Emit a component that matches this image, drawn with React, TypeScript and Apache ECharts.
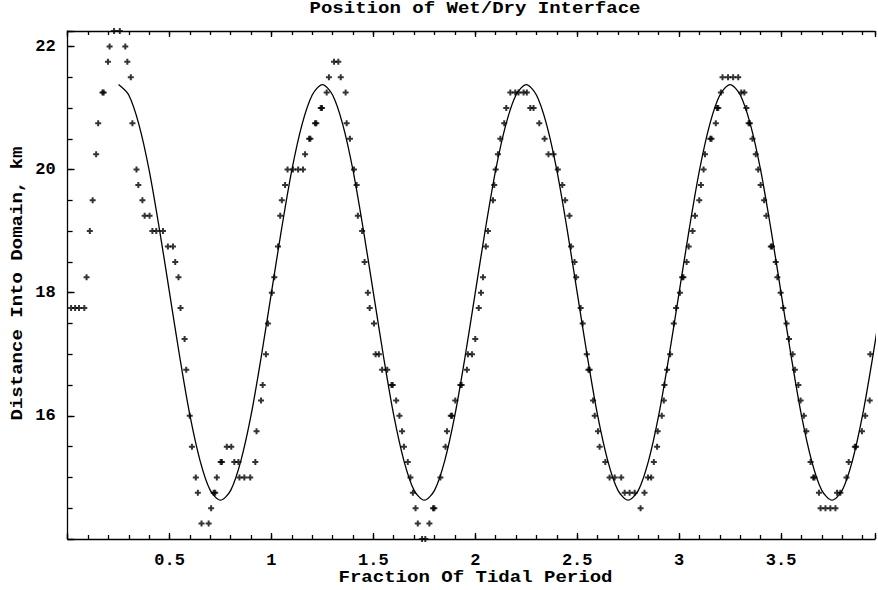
import React, { useEffect, useRef } from 'react';
import * as echarts from 'echarts';

const TITLE = 'Position of Wet/Dry Interface';
const X_NAME = 'Fraction Of Tidal Period';
const Y_NAME = 'Distance Into Domain, km';

const X_MIN = 0;
const X_MAX = 3.961;
const Y_MIN = 14;
const Y_MAX = 22.25;

const xTickLabels = [0.5, 1, 1.5, 2, 2.5, 3, 3.5];
const yTickLabels = [16, 18, 20, 22];

// fitted curve, sampled every 0.05 of a tidal period starting at 0.25
const lineStart = 0.25;
const lineStep = 0.05;
const lineY = [
  21.38, 21.21, 20.73, 19.99, 19.04, 18.0, 16.96, 16.01, 15.27, 14.79,
  14.63, 14.79, 15.27, 16.01, 16.96, 18.0, 19.04, 19.99, 20.73, 21.21,
  21.38, 21.21, 20.73, 19.99, 19.04, 18.0, 16.96, 16.01, 15.27, 14.79,
  14.63, 14.79, 15.27, 16.01, 16.96, 18.0, 19.04, 19.99, 20.73, 21.21,
  21.38, 21.21, 20.73, 19.99, 19.04, 18.0, 16.96, 16.01, 15.27, 14.79,
  14.63, 14.79, 15.27, 16.01, 16.96, 18.0, 19.04, 19.99, 20.73, 21.21,
  21.38, 21.21, 20.73, 19.99, 19.04, 18.0, 16.96, 16.01, 15.27, 14.79,
  14.63, 14.79, 15.27, 16.01, 16.96, 18.0,
];

// model output points (time, position)
const ptX = [
  0.017, 0.037, 0.056, 0.082, 0.093, 0.109, 0.123, 0.14, 0.15, 0.171, 0.177, 0.198, 0.206, 0.228, 0.256,
  0.283, 0.293, 0.31, 0.318, 0.338, 0.347, 0.367, 0.378, 0.402, 0.416, 0.435, 0.468, 0.492, 0.517, 0.528,
  0.544, 0.554, 0.574, 0.582, 0.599, 0.61, 0.629, 0.639, 0.657, 0.692, 0.704, 0.717, 0.724, 0.732, 0.751,
  0.757, 0.781, 0.803, 0.818, 0.838, 0.843, 0.867, 0.896, 0.921, 0.927, 0.949, 0.957, 0.973, 0.983, 1.002,
  1.014, 1.032, 1.043, 1.051, 1.067, 1.079, 1.106, 1.131, 1.155, 1.165, 1.185, 1.191, 1.214, 1.22, 1.242,
  1.248, 1.271, 1.282, 1.307, 1.328, 1.34, 1.364, 1.369, 1.385, 1.405, 1.418, 1.424, 1.445, 1.457, 1.473,
  1.482, 1.503, 1.511, 1.527, 1.543, 1.568, 1.589, 1.595, 1.612, 1.628, 1.641, 1.65, 1.669, 1.682, 1.694,
  1.707, 1.718, 1.739, 1.755, 1.775, 1.793, 1.799, 1.829, 1.854, 1.861, 1.88, 1.886, 1.902, 1.927, 1.933,
  1.959, 1.964, 1.984, 2.0, 2.017, 2.028, 2.038, 2.052, 2.062, 2.087, 2.093, 2.1, 2.111, 2.123, 2.142,
  2.152, 2.172, 2.196, 2.212, 2.237, 2.253, 2.27, 2.286, 2.314, 2.34, 2.359, 2.384, 2.405, 2.427, 2.441,
  2.462, 2.47, 2.487, 2.495, 2.517, 2.527, 2.547, 2.555, 2.561, 2.578, 2.586, 2.602, 2.61, 2.638, 2.659,
  2.684, 2.716, 2.733, 2.757, 2.782, 2.83, 2.811, 2.847, 2.863, 2.876, 2.892, 2.895, 2.915, 2.925, 2.928,
  2.941, 2.956, 2.974, 2.985, 3.004, 3.015, 3.021, 3.037, 3.047, 3.066, 3.078, 3.099, 3.107, 3.12, 3.127,
  3.153, 3.159, 3.18, 3.186, 3.192, 3.205, 3.213, 3.24, 3.265, 3.29, 3.305, 3.32, 3.33, 3.341, 3.347,
  3.36, 3.376, 3.388, 3.4, 3.417, 3.428, 3.45, 3.456, 3.474, 3.482, 3.498, 3.511, 3.527, 3.539, 3.557,
  3.568, 3.585, 3.596, 3.612, 3.624, 3.645, 3.658, 3.664, 3.686, 3.694, 3.718, 3.742, 3.767, 3.775, 3.791,
  3.821, 3.832, 3.862, 3.868, 3.897, 3.913, 3.935, 3.938,
];
const ptY = [
  17.75, 17.75, 17.75, 17.75, 18.25, 19.0, 19.5, 20.25, 20.75, 21.25, 21.25, 21.75, 22.0, 22.25, 22.25,
  22.0, 21.75, 21.5, 20.75, 20.0, 19.75, 19.5, 19.25, 19.25, 19.0, 19.0, 19.0, 18.75, 18.75, 18.5,
  18.25, 17.75, 17.25, 16.75, 16.0, 15.5, 15.0, 14.75, 14.25, 14.25, 14.5, 14.75, 14.75, 15.0, 15.25,
  15.25, 15.5, 15.5, 15.25, 15.25, 15.0, 15.0, 15.0, 15.25, 15.75, 16.25, 16.5, 17.0, 17.5, 18.0,
  18.25, 18.75, 19.25, 19.5, 19.75, 20.0, 20.0, 20.0, 20.0, 20.25, 20.5, 20.5, 20.75, 20.75, 21.0,
  21.0, 21.25, 21.5, 21.75, 21.75, 21.5, 21.25, 20.75, 20.5, 20.0, 19.75, 19.25, 19.0, 18.5, 18.0,
  17.75, 17.5, 17.0, 17.0, 16.75, 16.75, 16.5, 16.5, 16.25, 16.0, 15.75, 15.5, 15.25, 15.0, 14.75,
  14.5, 14.25, 14.0, 14.0, 14.25, 14.5, 14.5, 15.0, 15.5, 15.75, 16.0, 16.0, 16.25, 16.5, 16.5,
  16.75, 17.0, 17.0, 17.25, 17.75, 18.0, 18.25, 18.75, 19.0, 19.5, 19.75, 20.0, 20.25, 20.5, 20.75,
  21.0, 21.25, 21.25, 21.25, 21.25, 21.25, 21.0, 21.0, 20.75, 20.5, 20.25, 20.25, 20.0, 19.75, 19.5,
  19.25, 18.75, 18.5, 18.25, 17.75, 17.5, 17.0, 16.75, 16.75, 16.25, 16.0, 15.75, 15.5, 15.25, 15.0,
  15.0, 15.0, 14.75, 14.75, 14.75, 14.75, 14.5, 15.0, 15.0, 15.25, 15.5, 15.75, 16.0, 16.25, 16.5,
  16.75, 17.0, 17.5, 17.75, 18.0, 18.25, 18.25, 18.5, 18.75, 19.0, 19.25, 19.5, 19.75, 20.0, 20.25,
  20.5, 20.5, 20.75, 21.0, 21.0, 21.25, 21.5, 21.5, 21.5, 21.5, 21.25, 21.25, 21.0, 20.75, 20.75,
  20.5, 20.25, 20.0, 19.75, 19.5, 19.25, 18.75, 18.75, 18.5, 18.25, 18.0, 17.75, 17.5, 17.25, 17.0,
  16.75, 16.5, 16.25, 16.0, 15.75, 15.25, 15.0, 15.0, 14.75, 14.5, 14.5, 14.5, 14.5, 14.75, 14.75,
  15.0, 15.25, 15.5, 15.5, 15.75, 16.0, 16.25, 17.0,
];

const FONT = 'Liberation Mono';
const INK = '#000';
const AXIS_W = 1.3;
const PLUS = 'path://M2,0H4V2H6V4H4V6H2V4H0V2H2Z';

const near = (v: number, list: number[]) => list.some((t) => Math.abs(t - v) < 1e-6);

function buildOption() {
  const lineData = lineY.map((y, i) => [+(lineStart + i * lineStep).toFixed(3), y]);
  const ptData = ptX.map((x, i) => [x, ptY[i]]);
  const lineStyle = { color: INK, width: AXIS_W };
  const labelFont = { fontFamily: FONT, fontSize: 17, fontWeight: 'bold' as const, color: INK };

  const xAxis = (position: 'top' | 'bottom', interval: number, major: boolean) => ({
    type: 'value',
    position,
    min: X_MIN,
    max: X_MAX,
    interval,
    axisLine: { show: major, onZero: false, lineStyle },
    axisTick: { show: true, inside: true, length: major ? 6 : 4, lineStyle },
    minorTick: { show: false },
    splitLine: { show: false },
    axisLabel:
      major && position === 'bottom'
        ? {
            show: true,
            margin: 13,
            ...labelFont,
            formatter: (v: number) => (near(v, xTickLabels) ? String(+v.toFixed(2)) : ''),
          }
        : { show: false },
  });

  const yAxis = (interval: number, major: boolean) => ({
    type: 'value',
    position: 'left',
    min: Y_MIN,
    max: Y_MAX,
    interval,
    axisLine: { show: major, onZero: false, lineStyle },
    axisTick: { show: true, inside: true, length: major ? 7 : 5, lineStyle },
    minorTick: { show: false },
    splitLine: { show: false },
    axisLabel: major
      ? {
          show: true,
          margin: 12,
          ...labelFont,
          formatter: (v: number) => (near(v, yTickLabels) ? String(v) : ''),
        }
      : { show: false },
  });

  const textStyle = (text: string) => ({
    text,
    fontFamily: FONT,
    fontSize: 17,
    fontWeight: 'bold',
    fill: INK,
    align: 'center',
    verticalAlign: 'middle',
    textAlign: 'center',
    textVerticalAlign: 'middle',
  });

  return {
    animation: false,
    backgroundColor: '#fff',
    grid: { left: 67.6, right: 0, top: 31, bottom: 51, containLabel: false },
    xAxis: [
      xAxis('bottom', 0.5, true),
      xAxis('bottom', 0.1, false),
      xAxis('top', 0.5, true),
      xAxis('top', 0.1, false),
    ],
    yAxis: [yAxis(2, true), yAxis(0.5, false)],
    graphic: [
      { type: 'text', x: 475, y: 8.5, scaleX: 1.12, style: textStyle(TITLE) },
      { type: 'text', x: 475.5, y: 577, scaleX: 1.12, style: textStyle(X_NAME) },
      { type: 'text', x: 17, y: 283.5, rotation: Math.PI / 2, scaleX: 1.12, style: textStyle(Y_NAME) },
    ],
    series: [
      {
        type: 'line',
        xAxisIndex: 0,
        yAxisIndex: 0,
        data: lineData,
        showSymbol: false,
        symbol: 'none',
        smooth: 0.3,
        clip: true,
        lineStyle: { color: INK, width: 1.3 },
        silent: true,
      },
      {
        type: 'scatter',
        xAxisIndex: 0,
        yAxisIndex: 0,
        data: ptData,
        symbol: PLUS,
        symbolSize: 6,
        itemStyle: { color: INK },
        silent: true,
      },
    ],
  };
}

export default function App() {
  const ref = useRef<HTMLDivElement>(null);
  useEffect(() => {
    if (!ref.current) return;
    const chart = echarts.init(ref.current, null, { renderer: 'svg' });
    chart.setOption(buildOption() as any);
    return () => chart.dispose();
  }, []);
  return (
    <div
      ref={ref}
      style={{ position: 'absolute', left: 0, top: 0, width: 878, height: 590, background: '#fff' }}
    />
  );
}
